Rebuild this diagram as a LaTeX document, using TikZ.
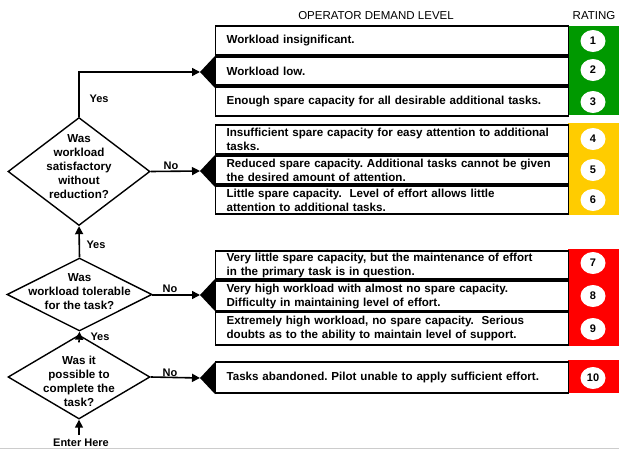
\documentclass[tikz,border=0pt]{standalone}
\usepackage{fontspec}
\setmainfont{Liberation Sans}
\usetikzlibrary{shapes.geometric,arrows.meta,calc}
\definecolor{rgreen}{RGB}{0,153,0}
\definecolor{ryellow}{RGB}{255,204,0}
\definecolor{rred}{RGB}{255,0,0}
\frenchspacing
\begin{document}
\begin{tikzpicture}[x=1pt,y=-1pt,
  every node/.style={font=\fontsize{11.6}{14}\selectfont\bfseries, inner sep=0pt},
  levelbox/.style={draw, line width=1.2pt, minimum width=353pt, inner xsep=11pt, inner ysep=0pt,
    text width=331pt, align=left, anchor=north west},
  thickedge/.style={line width=2.4pt},
  decision/.style={draw, line width=1.4pt, shape=diamond, inner sep=0pt},
  qtext/.style={align=center},
  conn/.style={line width=1.6pt, -{Triangle[length=8pt,width=8pt]}},
  lbl/.style={font=\fontsize{11}{13}\selectfont\bfseries},
  ratingnum/.style={shape=ellipse, fill=white, minimum width=25pt, minimum height=22pt,
    font=\fontsize{11}{13}\selectfont\bfseries},
  wedge/.style={fill=black},
]
\useasboundingbox (0,0) rectangle (619,450);

% header
\node[font=\fontsize{11.5}{14}\selectfont] (hdr) at (376,16) {OPERATOR DEMAND LEVEL};
\node[font=\fontsize{11.5}{14}\selectfont] (rat) at (594,16) {RATING};

% rating cells
\fill[rgreen] (568,26) rectangle (619,115);
\fill[ryellow] (568,123) rectangle (619,215);
\fill[rred] (568,249) rectangle (619,346);
\fill[rred] (568,360) rectangle (619,393);

% level boxes
\node[levelbox, minimum height=28pt] (b1) at (215,26) {Workload insignificant.};
\node[levelbox, minimum height=27pt] (b2) at (215,57) {Workload low.};
\node[levelbox, minimum height=28pt] (b3) at (215,87) {Enough spare capacity for all desirable additional tasks.};
\node[levelbox, minimum height=28pt] (b4) at (215,125) {Insufficient spare capacity for easy attention to additional\\tasks.};
\node[levelbox, minimum height=27pt] (b5) at (215,156) {Reduced spare capacity. Additional tasks cannot be given\\the desired amount of attention.};
\node[levelbox, minimum height=27pt] (b6) at (215,186) {Little spare capacity.\ \ Level of effort allows little\\attention to additional tasks.};
\node[levelbox, minimum height=27pt] (b7) at (215,251) {Very little spare capacity, but the maintenance of effort\\in the primary task is in question.};
\node[levelbox, minimum height=29pt] (b8) at (215,281) {Very high workload with almost no spare capacity.\\Difficulty in maintaining level of effort.};
\node[levelbox, minimum height=32pt] (b9) at (215,312) {Extremely high workload, no spare capacity.\ \ Serious\\doubts as to the ability to maintain level of support.};
\node[levelbox, minimum height=30pt] (b10) at (215,362) {Tasks abandoned. Pilot unable to apply sufficient effort.};

\foreach \b in {b1,b2,b3,b4,b5,b6,b7,b8,b9,b10}{
  \draw[thickedge] (\b.north west) -- (\b.north east);
  \draw[thickedge] (\b.south west) -- (\b.south east);
}

% rating numbers
\node[ratingnum] (n1) at (593,41) {1};
\node[ratingnum] (n2) at (593,70) {2};
\node[ratingnum] (n3) at (593,102) {3};
\node[ratingnum] (n4) at (593,139) {4};
\node[ratingnum] (n5) at (593,170) {5};
\node[ratingnum] (n6) at (593,200) {6};
\node[ratingnum] (n7) at (593,263) {7};
\node[ratingnum] (n8) at (593,296) {8};
\node[ratingnum] (n9) at (593,329) {9};
\node[ratingnum] (n10) at (593,378) {10};

% wedges
\coordinate (w1) at (200,72);
\coordinate (w2) at (200,171);
\coordinate (w3) at (200,295);
\coordinate (w4) at (200,378);
\foreach \w in {w1,w2,w3,w4}{
  \fill[wedge] (\w) -- ++(15,-16) -- ++(0,32) -- cycle;
}

% decisions
\node[decision, minimum width=142pt, minimum height=108pt] (d1) at (79,171.5) {};
\node[decision, minimum width=145pt, minimum height=73pt] (d2) at (79.5,294.5) {};
\node[decision, minimum width=142pt, minimum height=84pt] (d3) at (79,377) {};

\node[qtext] (d1t) at (79,166.5) {Was\\workload\\satisfactory\\without\\reduction?};
\node[qtext] (d2t) at (79.5,292) {Was\\workload tolerable\\for the task?};
\node[qtext] (d3t) at (79,381) {Was it\\possible to\\complete the\\task?};

% connectors
\draw[conn] (d1.north) |- (w1);
\draw[conn] (d1.east) -- (w2);
\draw[conn] (d2.north) -- (d1.south);
\draw[conn] (d2.east) -- (w3 -| d2.east) -- (w3);
\draw[conn] ($(d3.north)+(0,8)$) -- (d2.south);
\draw[conn] (d3.east) -- (w4);
\coordinate (entry) at (79,435);
\draw[conn] (entry) -- (d3.south);

% labels
\node[lbl] (y1) at (99,99) {Yes};
\node[lbl] (y2) at (96,245) {Yes};
\node[lbl] (y3) at (100,337) {Yes};
\node[lbl] (no1) at (171,166) {No};
\node[lbl] (no2) at (170,289) {No};
\node[lbl] (no3) at (170,373) {No};
\node[lbl] (enter) at (81,442.5) {Enter Here};

% bottom edge
\draw[gray!40, line width=0.8pt] (0,448.5) -- (619,448.5);
\end{tikzpicture}
\end{document}
